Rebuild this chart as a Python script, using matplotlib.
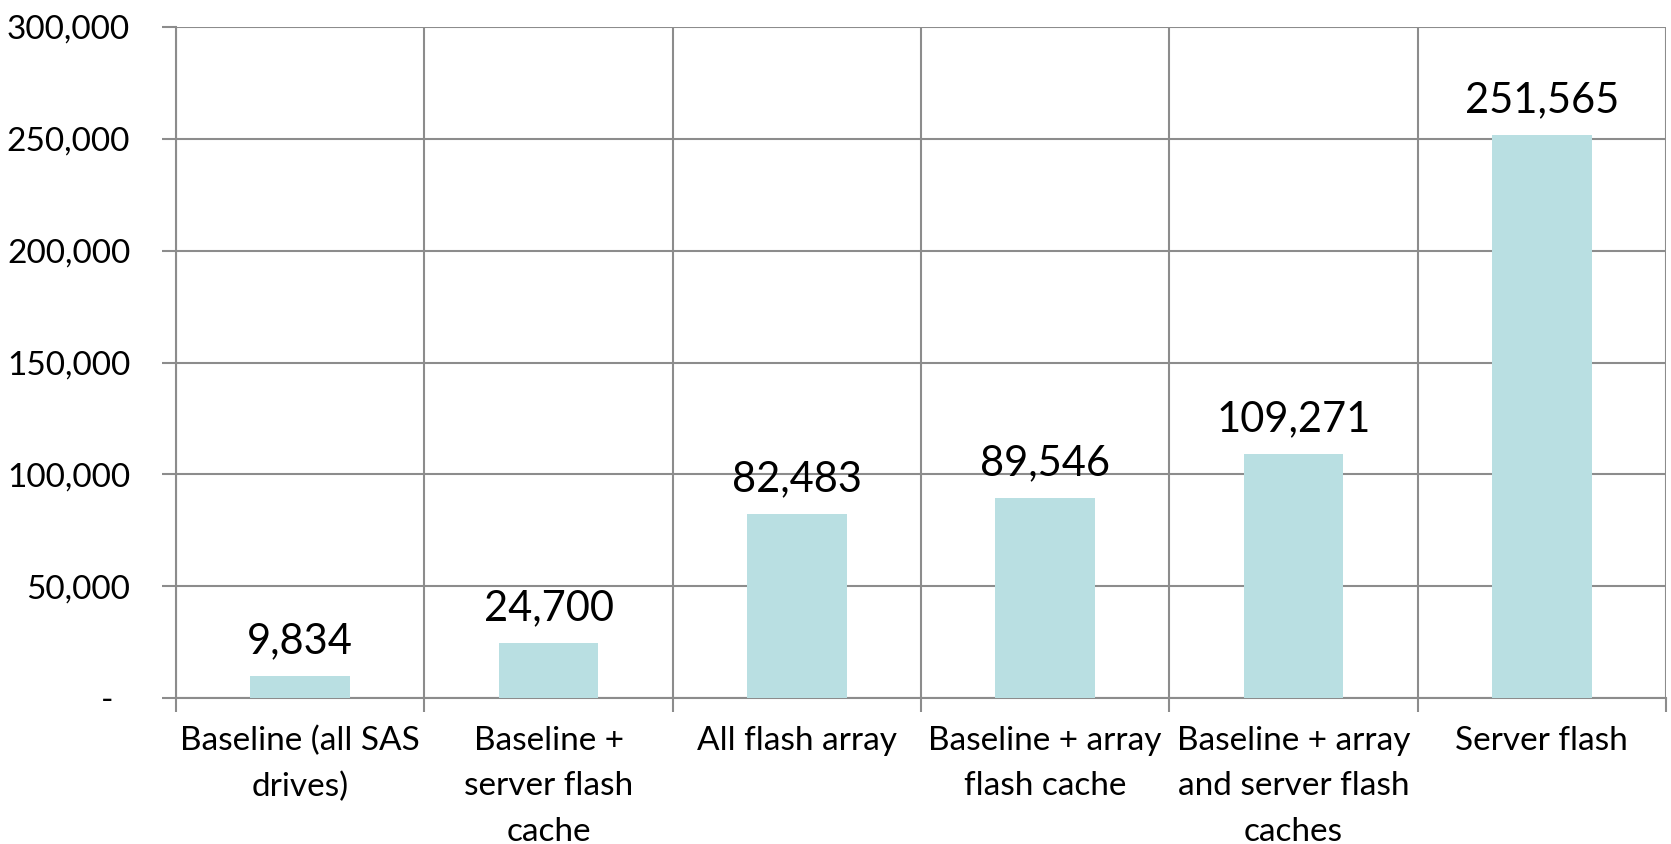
import matplotlib
matplotlib.use("Agg")
import matplotlib.pyplot as plt
from matplotlib.ticker import FuncFormatter, MultipleLocator

categories = [
    "Baseline (all SAS\ndrives)",
    "Baseline +\nserver flash\ncache",
    "All flash array",
    "Baseline + array\nflash cache",
    "Baseline + array\nand server flash\ncaches",
    "Server flash",
]
values = [9834, 24700, 82483, 89546, 109271, 251565]
y_max = 300000
y_step = 50000

plt.rcParams["font.family"] = ["Lato", "DejaVu Sans"]

fig = plt.figure(figsize=(16.71, 8.44), dpi=100)
ax = fig.add_axes([176 / 1671, 1 - 698 / 844, (1666 - 176) / 1671, (698 - 27) / 844])

x = list(range(len(categories)))
ax.bar(x, values, width=0.4, color="#B9DFE2", zorder=3)

ax.set_xlim(-0.5, len(categories) - 0.5)
ax.set_ylim(0, y_max)
ax.yaxis.set_major_locator(MultipleLocator(y_step))
ax.yaxis.set_major_formatter(
    FuncFormatter(lambda v, p: "-  " if v == 0 else f"{int(v):,}")
)

grid_c = "#8c8c8c"
ax.grid(axis="y", color=grid_c, linewidth=1.5, zorder=0)
for b in [i - 0.5 for i in range(len(categories) + 1)]:
    ax.axvline(b, color=grid_c, linewidth=1.5, zorder=0)

for s in ax.spines.values():
    s.set_visible(False)
for side in ("left", "bottom"):
    ax.spines[side].set_visible(True)
    ax.spines[side].set_color(grid_c)
    ax.spines[side].set_linewidth(1.5)

ax.set_xticks(x)
ax.set_xticklabels(categories, fontsize=24, linespacing=1.65)
ax.tick_params(axis="x", length=0, pad=20)
ax.set_xticks([i - 0.5 for i in range(len(categories) + 1)], minor=True)
ax.tick_params(axis="x", which="minor", length=10, color=grid_c, width=1.5)
ax.tick_params(axis="y", length=10, color=grid_c, width=1.5, labelsize=24, pad=23)

for xi, v in zip(x, values):
    ax.text(xi, v + 7000, f"{v:,}", ha="center", va="bottom", fontsize=30)

fig.savefig("out.png", dpi=100)
